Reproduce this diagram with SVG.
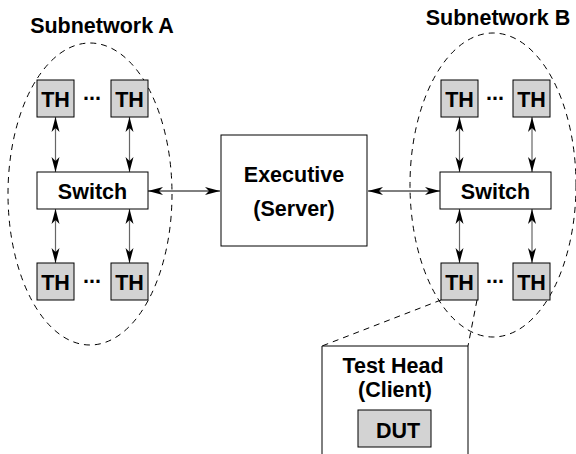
<svg xmlns="http://www.w3.org/2000/svg" width="576" height="454" viewBox="0 0 576 454">
<style>
text{font-family:"Liberation Sans",Arial,sans-serif;font-weight:bold;fill:#000;text-anchor:middle}
.t{font-size:21.5px}
.th{fill:#d3d3d3;stroke:#000;stroke-width:1}
.box{fill:#fff;stroke:#000;stroke-width:1}
.dash{fill:none;stroke:#000;stroke-width:1;stroke-dasharray:6,5}
.v{stroke:#666;stroke-width:1.2;fill:none}
.h{stroke:#000;stroke-width:1;fill:none}
</style>
<defs>
<marker id="ah" viewBox="0 -4.5 15 9" refX="15" refY="0" markerWidth="15" markerHeight="9" markerUnits="userSpaceOnUse" orient="auto-start-reverse">
<path d="M15,0 L0,-4 L4,0 L0,4 z" fill="#000"/>
</marker>
</defs>
<g id="subnetA-outline"><ellipse class="dash" cx="90" cy="194" rx="82" ry="151"/></g>
<g id="subnetB-outline"><ellipse class="dash" cx="493" cy="185" rx="83" ry="152"/></g>
<text class="t" x="102" y="33">Subnetwork A</text>
<text class="t" x="498" y="25">Subnetwork B</text>
<g id="connectors">
<line class="v" x1="55.5" y1="117" x2="55.5" y2="172" marker-start="url(#ah)" marker-end="url(#ah)"/>
<line class="v" x1="129.5" y1="117" x2="129.5" y2="172" marker-start="url(#ah)" marker-end="url(#ah)"/>
<line class="v" x1="55.5" y1="209" x2="55.5" y2="263" marker-start="url(#ah)" marker-end="url(#ah)"/>
<line class="v" x1="129.5" y1="209" x2="129.5" y2="263" marker-start="url(#ah)" marker-end="url(#ah)"/>
<line class="v" x1="459.5" y1="117" x2="459.5" y2="172" marker-start="url(#ah)" marker-end="url(#ah)"/>
<line class="v" x1="532" y1="117" x2="532" y2="172" marker-start="url(#ah)" marker-end="url(#ah)"/>
<line class="v" x1="459.5" y1="209" x2="459.5" y2="263" marker-start="url(#ah)" marker-end="url(#ah)"/>
<line class="v" x1="532" y1="209" x2="532" y2="263" marker-start="url(#ah)" marker-end="url(#ah)"/>
<line class="h" x1="148" y1="191" x2="220" y2="191" marker-start="url(#ah)" marker-end="url(#ah)"/>
<line class="h" x1="368" y1="191" x2="440" y2="191" marker-start="url(#ah)" marker-end="url(#ah)"/>
<line class="dash" x1="441" y1="300" x2="322" y2="346"/>
<line class="dash" x1="477" y1="300" x2="468" y2="346"/>
</g>
<g id="thA1"><rect class="th" x="37" y="80" width="37" height="37"/><text class="t" x="55.5" y="107">TH</text></g>
<g id="thA2"><rect class="th" x="111" y="80" width="37" height="37"/><text class="t" x="129.5" y="107">TH</text></g>
<text class="t" x="92" y="100">...</text>
<g id="switchA"><rect class="box" x="37" y="172" width="111" height="37"/><text class="t" x="92.5" y="198.5">Switch</text></g>
<g id="thA3"><rect class="th" x="37" y="263" width="37" height="37"/><text class="t" x="55.5" y="290">TH</text></g>
<g id="thA4"><rect class="th" x="111" y="263" width="37" height="37"/><text class="t" x="129.5" y="290">TH</text></g>
<text class="t" x="92" y="283">...</text>
<g id="executive"><rect class="box" x="221" y="135" width="146" height="111"/><text class="t" x="294" y="182">Executive</text><text class="t" x="294" y="216">(Server)</text></g>
<g id="thB1"><rect class="th" x="441" y="80" width="37" height="37"/><text class="t" x="459.5" y="107">TH</text></g>
<g id="thB2"><rect class="th" x="513" y="80" width="37" height="37"/><text class="t" x="531.5" y="107">TH</text></g>
<text class="t" x="495" y="100">...</text>
<g id="switchB"><rect class="box" x="440" y="172" width="111" height="37"/><text class="t" x="495.5" y="198.5">Switch</text></g>
<g id="thB3"><rect class="th" x="441" y="263" width="37" height="37"/><text class="t" x="459.5" y="290">TH</text></g>
<g id="thB4"><rect class="th" x="513" y="263" width="37" height="37"/><text class="t" x="531.5" y="290">TH</text></g>
<text class="t" x="495" y="283">...</text>
<g id="testhead"><path class="box" d="M322,455 V346 H468 V455"/><text class="t" x="393" y="373">Test Head</text><text class="t" x="395" y="397">(Client)</text></g>
<g id="dut"><rect class="th" x="358" y="410" width="73" height="37"/><text class="t" x="398" y="438">DUT</text></g>
</svg>
